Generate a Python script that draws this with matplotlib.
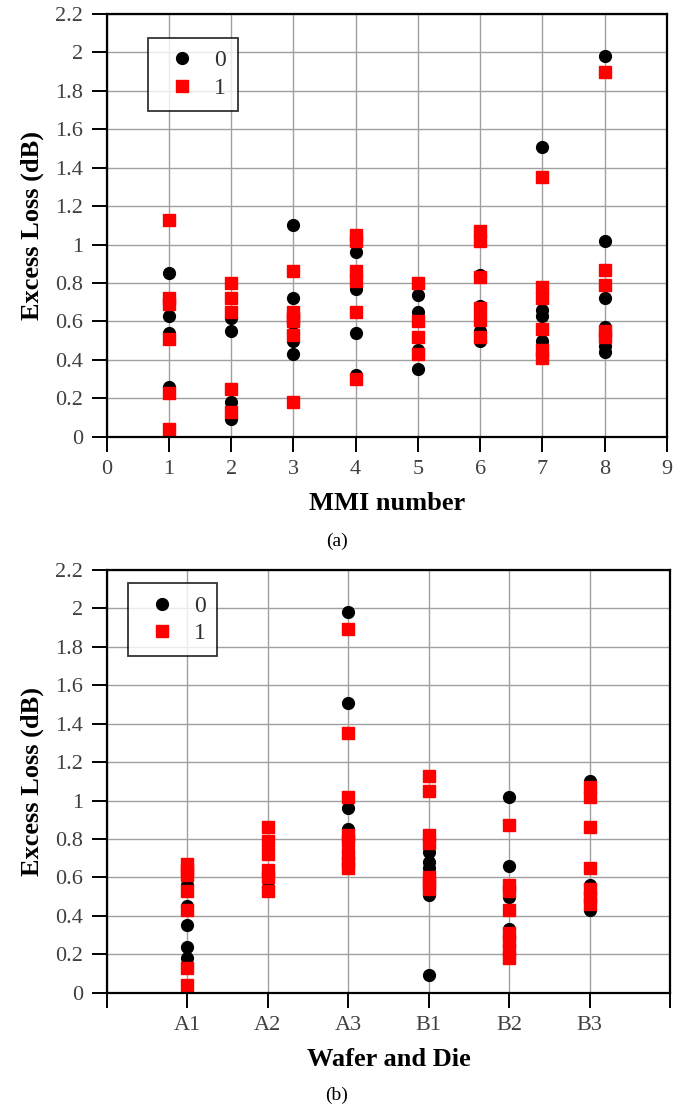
import matplotlib
matplotlib.use("Agg")
import matplotlib.pyplot as plt

# data
mmi_numbers = [1, 2, 3, 4, 5, 6, 7, 8]
mmi_loss_0 = [
    [0.85, 0.63, 0.54, 0.26],
    [0.62, 0.55, 0.18, 0.09],
    [1.10, 0.72, 0.54, 0.50, 0.43],
    [0.96, 0.77, 0.54, 0.32],
    [0.74, 0.65, 0.45, 0.35],
    [0.84, 0.68, 0.55, 0.50],
    [1.51, 0.66, 0.63, 0.50],
    [1.98, 1.02, 0.72, 0.57, 0.47, 0.44],
]
mmi_loss_1 = [
    [1.13, 0.72, 0.69, 0.51, 0.23, 0.04],
    [0.80, 0.72, 0.65, 0.25, 0.13],
    [0.86, 0.65, 0.62, 0.60, 0.53, 0.18],
    [1.05, 1.02, 0.86, 0.81, 0.65, 0.30],
    [0.80, 0.60, 0.52, 0.43],
    [1.07, 1.02, 0.83, 0.67, 0.61, 0.52],
    [1.35, 0.78, 0.72, 0.56, 0.45, 0.41],
    [1.90, 0.87, 0.79, 0.55, 0.52],
]

dies = ["A1", "A2", "A3", "B1", "B2", "B3"]
die_loss_0 = [
    [0.56, 0.45, 0.35, 0.24, 0.18],
    [0.55],
    [1.98, 1.51, 0.96, 0.85, 0.73],
    [0.73, 0.68, 0.65, 0.51, 0.09],
    [1.02, 0.66, 0.50, 0.33],
    [1.10, 0.56, 0.43],
]
die_loss_1 = [
    [0.67, 0.64, 0.61, 0.53, 0.43, 0.13, 0.04],
    [0.86, 0.79, 0.72, 0.64, 0.60, 0.53],
    [1.89, 1.35, 1.02, 0.82, 0.79, 0.72, 0.68, 0.65],
    [1.13, 1.05, 0.82, 0.78, 0.60, 0.57, 0.54],
    [0.87, 0.56, 0.53, 0.43, 0.31, 0.27, 0.22, 0.18],
    [1.07, 1.02, 0.86, 0.65, 0.54, 0.50, 0.46],
]

y_ticks = [0, 0.2, 0.4, 0.6, 0.8, 1, 1.2, 1.4, 1.6, 1.8, 2, 2.2]
y_labels = ["0", "0.2", "0.4", "0.6", "0.8", "1", "1.2", "1.4", "1.6", "1.8", "2", "2.2"]

plt.rcParams["font.family"] = ["Liberation Serif", "DejaVu Serif"]
fig = plt.figure(figsize=(6.89, 11.09), dpi=100)


def flat(cats, groups):
    xs, ys = [], []
    for c, g in zip(cats, groups):
        xs += [c] * len(g)
        ys += g
    return xs, ys


def style_axes(ax, legend_xy):
    ax.set_ylim(0, 2.2)
    ax.set_yticks(y_ticks)
    ax.set_yticklabels(y_labels)
    ax.grid(True, color="#a0a0a0", linewidth=1.0)
    ax.set_axisbelow(True)
    for s in ax.spines.values():
        s.set_linewidth(1.6)
        s.set_color("black")
    ax.tick_params(direction="out", length=11, width=1.4, pad=6,
                   labelsize=16, labelcolor="#404040")
    ax.set_ylabel("Excess Loss (dB)", fontsize=19, fontweight="bold", labelpad=8)
    leg = ax.legend(loc="upper left", bbox_to_anchor=legend_xy, fontsize=17,
                    frameon=True, fancybox=False, edgecolor="black",
                    handlelength=1.9, handletextpad=0.4, borderpad=0.5,
                    labelspacing=0.25, borderaxespad=0)
    leg.get_frame().set_linewidth(1.3)
    for t in leg.get_texts():
        t.set_color("#303030")


# (a) by MMI number
ax1 = fig.add_axes([0.1549, 0.6062, 0.8128, 0.3812])
x0, y0 = flat(mmi_numbers, mmi_loss_0)
x1, y1 = flat(mmi_numbers, mmi_loss_1)
ax1.plot(x0, y0, "o", color="black", markersize=8.5, linestyle="none", label="0")
ax1.plot(x1, y1, "s", color="#ff0000", markersize=8, linestyle="none", label="1")
ax1.set_xlim(0, 9)
ax1.set_xticks(range(10))
style_axes(ax1, (0.074, 0.943))
ax1.set_xlabel("MMI number", fontsize=19, fontweight="bold", labelpad=9)
fig.text(0.489, 0.512, "(a)", ha="center", va="center", fontsize=14)

# (b) by wafer and die
ax2 = fig.add_axes([0.1549, 0.1049, 0.8176, 0.3812])
pos = list(range(1, len(dies) + 1))
x0, y0 = flat(pos, die_loss_0)
x1, y1 = flat(pos, die_loss_1)
ax2.plot(x0, y0, "o", color="black", markersize=8.5, linestyle="none", label="0")
ax2.plot(x1, y1, "s", color="#ff0000", markersize=8, linestyle="none", label="1")
ax2.set_xlim(0, 7)
ax2.set_xticks(range(8))
ax2.set_xticklabels([""] + dies + [""])
style_axes(ax2, (0.037, 0.968))
ax2.set_xlabel("Wafer and Die", fontsize=19, fontweight="bold", labelpad=9)
fig.text(0.489, 0.0125, "(b)", ha="center", va="center", fontsize=14)

fig.savefig("out.png", dpi=100)
